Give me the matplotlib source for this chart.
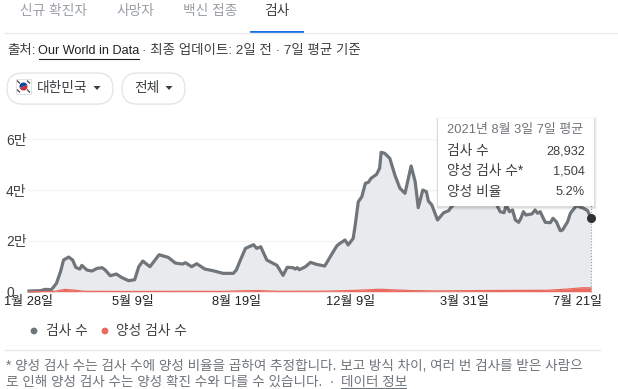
import matplotlib
matplotlib.use("Agg")
import matplotlib.pyplot as plt
from matplotlib.patches import FancyBboxPatch, Rectangle, Circle, Wedge, Polygon

plt.rcParams['font.family'] = ['Liberation Sans', 'Noto Sans CJK KR', 'DejaVu Sans']

# Days since 2020-01-28
days = [0, 11, 16, 22, 27, 31, 34, 39, 43, 46, 50, 52, 57, 62, 67, 72, 75, 80, 86, 91, 98, 104, 108, 112, 119,
        128, 137, 144, 151, 154, 160, 165, 173, 181, 191, 201, 204, 208, 213, 221, 224, 228, 234, 244, 250, 254,
        260, 262, 264, 266, 272, 277, 283, 291, 298, 303, 306, 311, 314, 319, 321, 324, 327.5, 331, 334, 336.6,
        342, 345, 346.5, 350, 355, 360, 365, 370, 376, 380, 383, 387.5, 391, 393, 396.4, 402, 408, 413, 415, 419,
        428, 441, 454, 458.7, 463.6, 467.5, 469.5, 472.8, 475.8, 478.6, 481.8, 484, 486.5, 489, 494.8, 498,
        500.4, 503, 508, 513, 515.6, 518.9, 522.8, 525, 530, 532.7, 538.6, 545.8, 549.7, 553]
tests = [260, 390, 920, 790, 3280, 7870, 12460, 13640, 12460, 9580, 8920, 10360, 8530, 8130, 9180, 9450, 8530,
         6300, 6950, 5640, 4330, 4720, 9840, 12070, 9840, 14560, 13510, 11280, 10890, 11410, 9840, 11020, 8920,
         8270, 7220, 7220, 8530, 12460, 17060, 18500, 17060, 17710, 12460, 10360, 6430, 9580, 9450, 8920, 9450,
         8660, 9840, 11550, 10760, 10100, 14830, 18100, 19050, 20350, 18400, 21000, 26260, 35400, 37400, 42680,
         43070, 44650, 46200, 48600, 54880, 54480, 52500, 45950, 40700, 38740, 49500, 43300, 33070, 40040, 39370,
         35700, 34130, 28230, 31100, 31890, 33070, 34770, 37400, 39360, 37000, 35430, 31500, 31100, 34130, 31500,
         32170, 28230, 27320, 28900, 31500, 30200, 30600, 32170, 30870, 31500, 27320, 27170, 28900, 27560, 24000,
         24300, 27560, 30870, 33860, 32830, 31890, 28932]
pos_days = [0, 25, 35, 42, 55, 100, 150, 190, 210, 225, 245, 290, 320, 345, 375, 400, 430, 470, 510, 530, 545, 553]
positives = [0, 100, 900, 700, 150, 80, 150, 100, 350, 450, 150, 200, 500, 950, 450, 300, 400, 500, 550, 1050, 1550, 1504]
x_ticks = [0, 102, 204, 316, 428, 540]
x_labels = ['1월 28일', '5월 9일', '8월 19일', '12월 9일', '3월 31일', '7월 21일']
y_ticks = [0, 20000, 40000, 60000]
y_labels = ['0', '2만', '4만', '6만']
tabs = ['신규 확진자', '사망자', '백신 접종', '검사']
tab_x = [54, 135, 210, 277]
DARK = '#3c4043'
RED = '#ea6a5e'
W, H = 618, 389

fig = plt.figure(figsize=(W / 100, H / 100), dpi=100, facecolor='white')

ax = fig.add_axes([29 / W, (H - 291.7) / H, 562 / W, 152.4 / H])
ax.fill_between(days, tests, color='#e8eaed', lw=0)
ax.plot(days, tests, color='#70757a', lw=2.3, solid_joinstyle='round', clip_on=False)
ax.fill_between(pos_days, positives, color=RED, lw=0)
ax.plot(pos_days, positives, color=RED, lw=0.9, clip_on=False)
ax.plot([553, 553], [0, 60000], color='#9aa0a6', lw=0.8, ls=':', clip_on=False)
ax.plot([553], [28932], 'o', color='#303134', ms=5.5, clip_on=False, zorder=5)
ax.set_xlim(0, 553)
ax.set_ylim(0, 60000)
ax.set_xticks(x_ticks, x_labels, fontsize=9.3, color='#202124')
ax.set_yticks(y_ticks, y_labels, fontsize=10, color=DARK)
for t in ax.get_yticklabels():
    t.set_ha('left')
ax.tick_params(axis='x', length=0, pad=3.2)
ax.tick_params(axis='y', length=0, pad=16.5)
ax.grid(axis='y', color='#f4f4f4', lw=1)
ax.set_axisbelow(True)
for s in ax.spines.values():
    s.set_visible(False)
ax.patch.set_alpha(0)

ui = fig.add_axes([0, 0, 1, 1], zorder=10)
ui.set_xlim(0, W)
ui.set_ylim(H, 0)
ui.axis('off')
ui.patch.set_alpha(0)


def T(x, y, s, size=9.9, color=DARK, ha='left', **kw):
    return ui.text(x, y, s, fontsize=size, color=color, ha=ha, va='center', **kw)


# Tabs
for x, s in zip(tab_x, tabs):
    T(x, 11, s, 9.9, '#3c4043' if s == '검사' else '#9aa0a6', ha='center')
ui.plot([5, 618], [33, 33], color='#ebebeb', lw=1)
ui.add_patch(Rectangle((250, 31), 54, 2, color='#1a73e8', lw=0))

# Source line
T(7, 51, '출처:', 9.7)
T(38.5, 51, 'Our World in Data', 9.05, '#202124')
ui.plot([38.5, 139], [58.5, 58.5], color='#202124', lw=0.8)
T(142, 51, '· 최종 업데이트: 2일 전 · 7일 평균 기준', 9.7)

# Pills
for x0, x1 in [(7, 113), (122, 185)]:
    ui.add_patch(FancyBboxPatch((x0 + 15.5, 88.5), x1 - x0 - 31, 0.1, boxstyle='round,pad=15.5,rounding_size=15.5',
                                fc='white', ec='#e3e3e3', lw=0.9))
ui.add_patch(Rectangle((16, 79), 15, 15, fc='white', ec='#dddddd', lw=0.6))
ui.add_patch(Wedge((23.5, 86.5), 4, 160, 340, fc='#0047a0', lw=0))
ui.add_patch(Wedge((23.5, 86.5), 4, 340, 160, fc='#cd2e3a', lw=0))
for px, py in [(18.5, 82), (28.5, 82), (18.5, 91), (28.5, 91)]:
    ui.plot([px - 1, px + 1], [py - 1, py + 1], color='#555555', lw=1)
T(37, 87.5, '대한민국', 9.9)
T(134, 87.5, '전체', 9.9)
for cx in (97, 169):
    ui.add_patch(Polygon([(cx - 3.5, 86), (cx + 3.5, 86), (cx, 90)], fc=DARK, lw=0))

# Tooltip
for off, al in [(2.5, 0.03), (1.5, 0.05), (0.7, 0.06)]:
    ui.add_patch(Rectangle((438 - off, 118 - off + 1), 156 + 2 * off, 88 + 2 * off, fc='black', alpha=al, lw=0))
ui.add_patch(Rectangle((438, 118), 156, 88, fc='white', lw=0))
T(447, 130, '2021년 8월 3일 7일 평균', 9.3, '#70757a')
T(447, 151, '검사 수', 9.9)
T(585, 151, '28,932', 9.2, ha='right')
T(447, 171, '양성 검사 수*', 9.9)
T(585, 171, '1,504', 9.2, ha='right')
T(447, 192, '양성 비율', 9.9)
T(585, 192, '5.2%', 9.2, ha='right')

# Legend
ui.add_patch(Circle((34, 331), 3.4, fc='#70757a', lw=0))
T(46, 330.5, '검사 수', 9.9)
ui.add_patch(Circle((105, 331), 3.4, fc=RED, lw=0))
T(116, 330.5, '양성 검사 수', 9.9)
ui.plot([5, 600], [350, 350], color='#e8eaed', lw=1)

# Footnote
T(6, 366, '* 양성 검사 수는 검사 수에 양성 비율을 곱하여 추정합니다. 보고 방식 차이, 여러 번 검사를 받은 사람으', 9.8, '#70757a')
T(6, 382, '로 인해 양성 검사 수는 양성 확진 수와 다를 수 있습니다.  ·', 9.8, '#70757a')
T(341, 382, '데이터 정보', 9.8, '#70757a')
ui.plot([341, 406], [388, 388], color='#70757a', lw=0.8)

fig.savefig('out.png', dpi=100, facecolor='white')
